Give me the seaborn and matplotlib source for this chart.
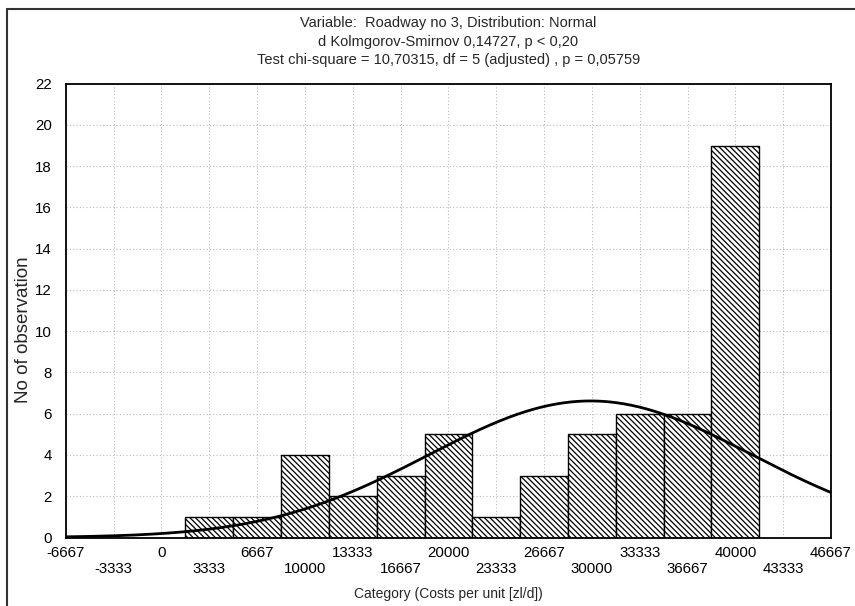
import numpy as np
import pandas as pd
import matplotlib
matplotlib.use("Agg")
import matplotlib.pyplot as plt
from matplotlib.lines import Line2D
import seaborn as sns

# histogram data (bin centres and counts)
step = 20000 / 6
bin_centers = [3333.33, 6666.67, 10000, 13333.33, 16666.67, 20000,
               23333.33, 26666.67, 30000, 33333.33, 36666.67, 40000]
counts = [1, 1, 4, 2, 3, 5, 1, 3, 5, 6, 6, 19]

# fitted normal curve parameters (estimated from the figure)
fit_mean = 29900
fit_sd = 11250

tick_values = [-6666.67 + k * step for k in range(17)]
tick_labels = ["-6667", "-3333", "0", "3333", "6667", "10000", "13333", "16667",
               "20000", "23333", "26667", "30000", "33333", "36667", "40000",
               "43333", "46667"]

title = ("Variable:  Roadway no 3, Distribution: Normal\n"
         "d Kolmgorov-Smirnov 0,14727, p < 0,20\n"
         "Test chi-square = 10,70315, df = 5 (adjusted) , p = 0,05759")

sns.set_style("white")
plt.rcParams["font.family"] = ["Liberation Sans", "DejaVu Sans"]
plt.rcParams["hatch.linewidth"] = 0.9

df = pd.DataFrame({"center": bin_centers, "count": counts})
edges = [bin_centers[0] - step / 2 + i * step for i in range(len(bin_centers) + 1)]

fig = plt.figure(figsize=(8.55, 6.06), dpi=100)
ax = fig.add_axes([0.077, 0.113, 0.895, 0.749])

sns.histplot(data=df, x="center", weights="count", bins=edges, ax=ax,
             color="white", edgecolor="black", linewidth=1.0, alpha=1,
             hatch="\\\\\\\\\\\\", zorder=2)

xs = np.linspace(tick_values[0], tick_values[-1], 400)
n = sum(counts)
ys = n * step / (fit_sd * np.sqrt(2 * np.pi)) * np.exp(-0.5 * ((xs - fit_mean) / fit_sd) ** 2)
sns.lineplot(x=xs, y=ys, ax=ax, color="black", linewidth=2.0, zorder=3)

ax.set_xlim(tick_values[0], tick_values[-1])
ax.set_ylim(0, 22)
ax.set_yticks(range(0, 23, 2))
ax.set_xticks(tick_values)
ax.set_xticklabels([lab if i % 2 == 0 else "\n" + lab for i, lab in enumerate(tick_labels)])
ax.tick_params(axis="both", length=0, labelsize=10.8, colors="black")
ax.tick_params(axis="x", pad=6)
ax.tick_params(axis="y", pad=10)

ax.grid(True, color="#bbbbbb", linestyle=(0, (1, 2)), linewidth=0.8, zorder=0)
ax.set_axisbelow(True)
for s in ax.spines.values():
    s.set_color("black")
    s.set_linewidth(1.3)

ax.set_xlabel("Category (Costs per unit [zl/d])", fontsize=10, labelpad=8)
ax.set_ylabel("No of observation", fontsize=13.5)
ax.yaxis.set_label_coords(-0.044, 0.457)
ax.set_title(title, fontsize=10.5, linespacing=1.42, pad=14)

# outer frame of the scanned figure
fig.add_artist(Line2D([0.0082, 0.0082], [0, 0.985], color="#333333", linewidth=1.5))
fig.add_artist(Line2D([0.0082, 1.0], [0.985, 0.985], color="#333333", linewidth=1.5))

fig.savefig("out.png", dpi=100)
